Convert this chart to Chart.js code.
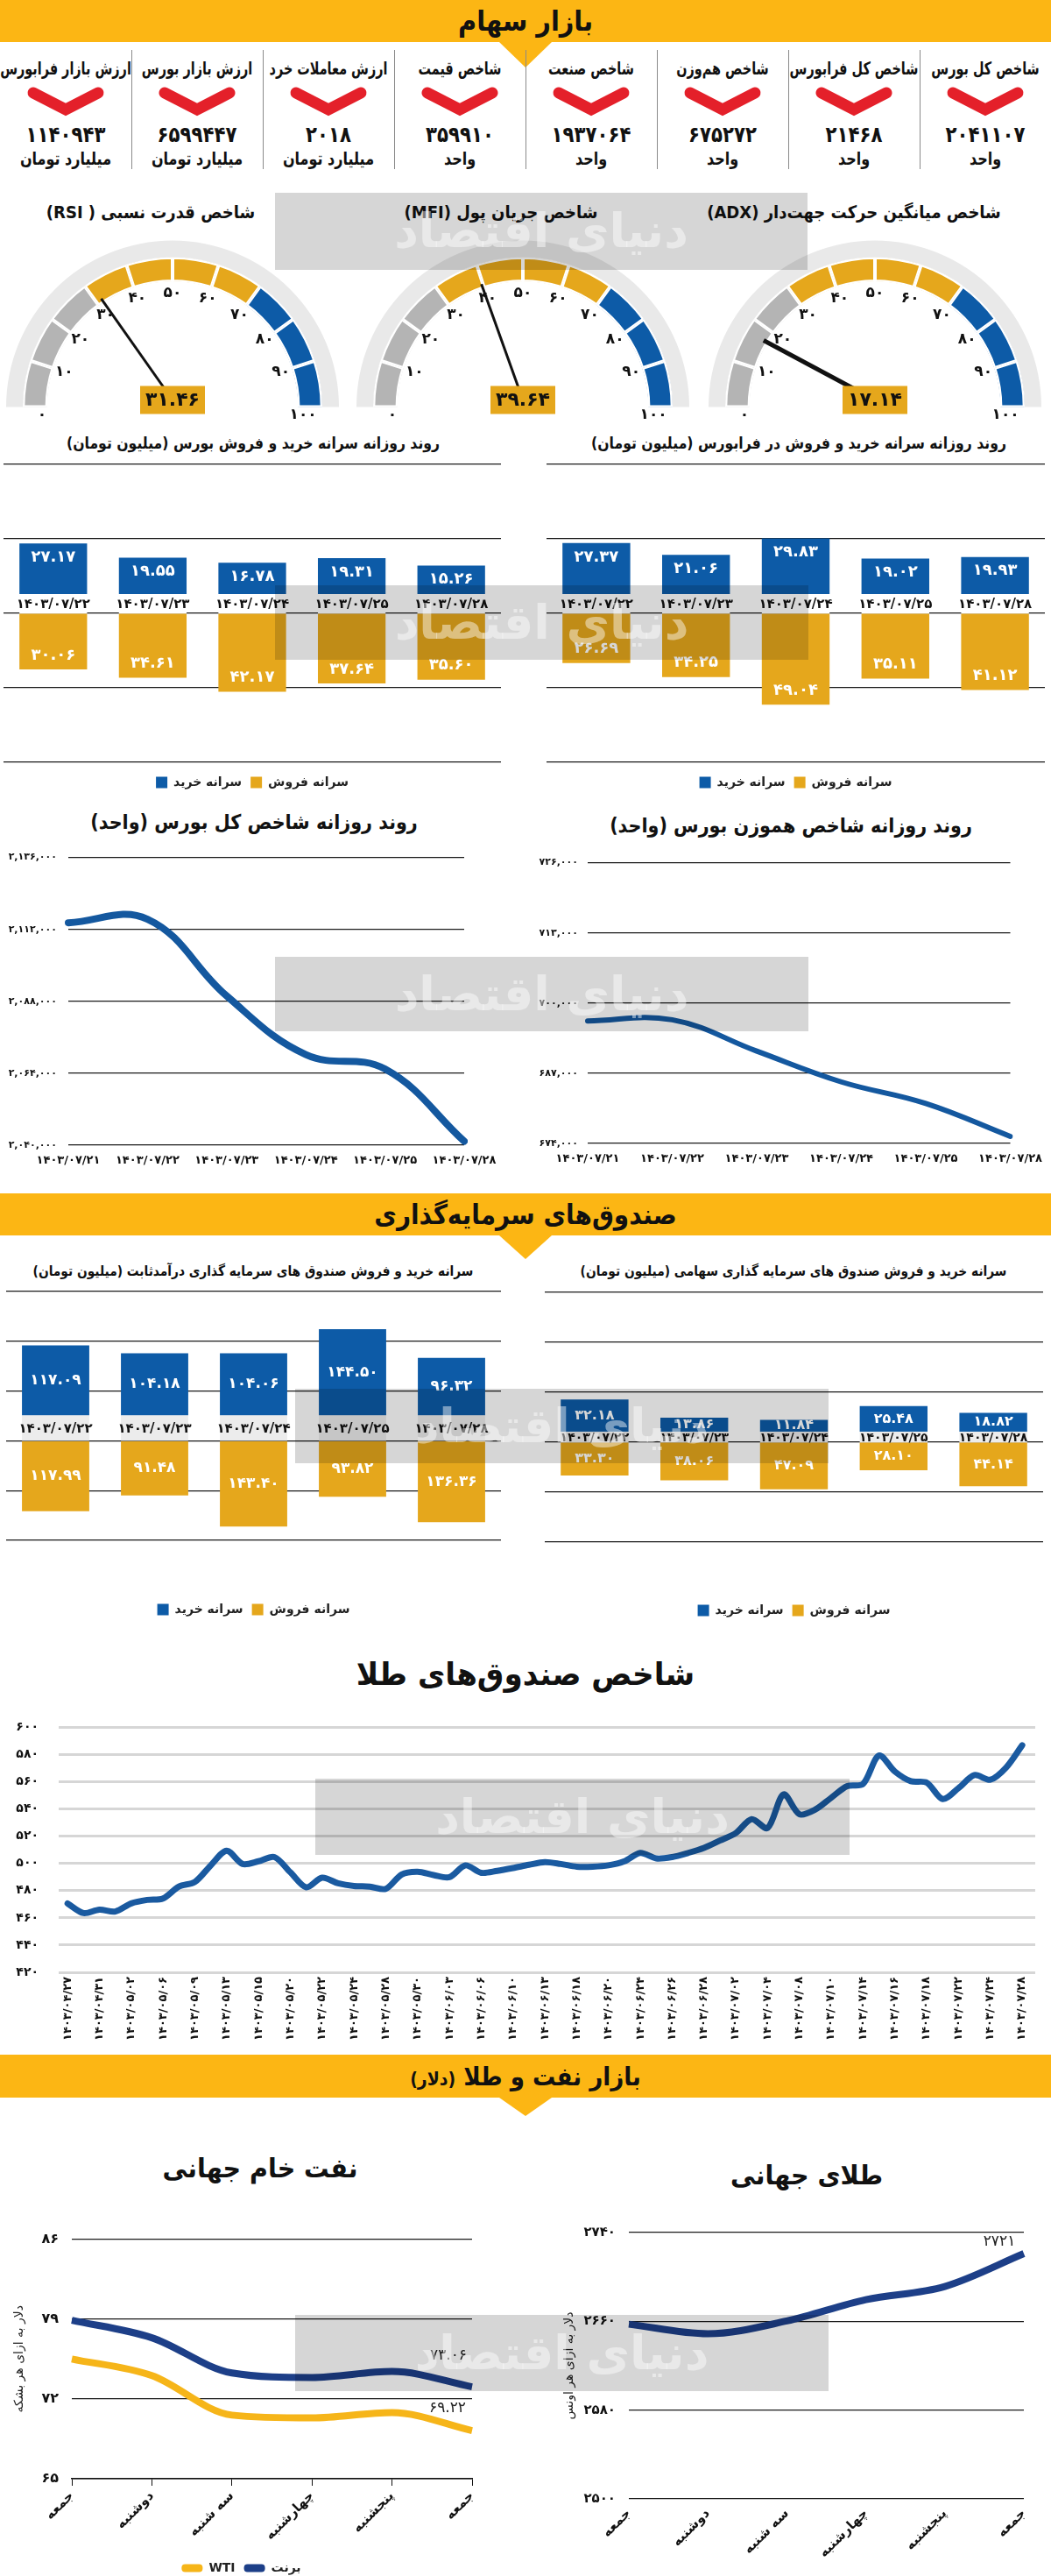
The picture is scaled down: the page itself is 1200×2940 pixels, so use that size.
<!DOCTYPE html>
<html lang="fa">
<head>
<meta charset="utf-8">
<title>بازار سهام</title>
<script src="https://cdn.jsdelivr.net/npm/chart.js@4.4.1/dist/chart.umd.min.js"></script>
<style>
  body { margin: 0; background: #fff; }
  #page { position: relative; width: 1200px; height: 2940px; overflow: hidden; font-family: 'DejaVu Sans', sans-serif; color: #111; }
  .band { position: absolute; left: 0; width: 1200px; background: #fcb614; }
  .notch { position: absolute; left: 570px; width: 0; height: 0; border-left: 30px solid transparent; border-right: 30px solid transparent; }
  .t { position: absolute; white-space: nowrap; font-weight: bold; direction: rtl; }
  .sep { position: absolute; top: 57px; width: 1px; height: 136px; background: #8a8a8a; }
  canvas { position: absolute; }
  .wm { position: absolute; z-index: 5; background: rgba(0, 0, 0, 0.16); color: rgba(255, 255, 255, 0.45);
        font-weight: bold; font-size: 54px; text-align: center; overflow: hidden; direction: rtl; }
</style>
</head>
<body>
<div id="page"></div>
<script>
// ---- data ----
// header stats, right to left
const statTitles = ['شاخص کل بورس', 'شاخص کل فرابورس', 'شاخص هم\u200cوزن', 'شاخص صنعت', 'شاخص قیمت', 'ارزش معاملات خرد', 'ارزش بازار بورس', 'ارزش بازار فرابورس'];
const statValues = [2041107, 21468, 675272, 1937064, 359910, 2018, 6599447, 1140943];
const statUnits = ['واحد', 'واحد', 'واحد', 'واحد', 'واحد', 'میلیارد تومان', 'میلیارد تومان', 'میلیارد تومان'];

// gauges, left to right
const gaugeTitles = ['شاخص قدرت نسبی ( RSI)', 'شاخص جریان پول (MFI)', 'شاخص میانگین حرکت جهت\u200cدار (ADX)'];
const gaugeValues = [31.46, 39.64, 17.14];
const gaugeSteps = [10, 10, 10, 10, 10, 10, 10, 10, 10, 10];
const gaugeTicks = [0, 10, 20, 30, 40, 50, 60, 70, 80, 90, 100];

// daily buy / sell per capita
const tradeDates = ['1403/07/22', '1403/07/23', '1403/07/24', '1403/07/25', '1403/07/28'];
const bourseBuy = [27.17, 19.55, 16.78, 19.31, 15.26];
const bourseSell = [30.06, 34.61, 42.17, 37.64, 35.60];
const farabourseBuy = [27.37, 21.06, 29.83, 19.02, 19.93];
const farabourseSell = [26.69, 34.25, 49.04, 35.11, 41.12];
const stockGrid = [-80, -40, 0, 40, 80];

// daily index
const indexDates = ['1403/07/21', '1403/07/22', '1403/07/23', '1403/07/24', '1403/07/25', '1403/07/28'];
const totalIndex = [2114200, 2115400, 2089800, 2070200, 2065400, 2041300];
const equalIndex = [696700, 696900, 691100, 685400, 681400, 675300];

// funds
const fixedIncomeBuy = [117.09, 104.18, 104.06, 144.50, 96.32];
const fixedIncomeSell = [117.99, 91.48, 143.40, 93.82, 136.36];
const fixedIncomeGrid = [-166.67, -83.33, 0, 83.33, 166.67, 250];
const equityFundBuy = [32.18, 13.86, 11.84, 25.48, 18.82];
const equityFundSell = [33.30, 38.06, 47.09, 28.10, 44.14];
const equityFundGrid = [-100, -50, 0, 50, 100, 150];

// gold funds index (two readings per date label)
const goldFundDates = ['1403/04/27', '1403/04/31', '1403/05/02', '1403/05/06', '1403/05/09', '1403/05/13', '1403/05/15', '1403/05/20',
  '1403/05/22', '1403/05/24', '1403/05/28', '1403/05/30', '1403/06/03', '1403/06/06', '1403/06/10', '1403/06/13', '1403/06/18',
  '1403/06/20', '1403/06/24', '1403/06/26', '1403/06/28', '1403/07/02', '1403/07/04', '1403/07/08', '1403/07/10', '1403/07/14',
  '1403/07/16', '1403/07/18', '1403/07/22', '1403/07/24', '1403/07/28'];
const goldFundIndex = [470.6, 463.5, 466.1, 464.7, 470.6, 473.2, 474.2, 483.0, 486.4, 498.6, 509.3, 499.6, 501.6, 504.7, 493.5,
  482.4, 489.5, 485.4, 483.4, 483.0, 481.3, 491.9, 493.9, 491.5, 489.9, 498.6, 493.1, 494.5, 496.6, 499.0, 501.0,
  499.6, 497.6, 497.6, 498.6, 501.6, 507.7, 503.7, 504.7, 507.7, 511.4, 516.8, 522.3, 532.5, 526.0, 550.7, 536.1,
  539.6, 548.3, 556.8, 558.4, 579.3, 567.5, 560.4, 559.4, 547.3, 555.4, 564.9, 561.5, 570.6, 586.8];

// oil & gold
const weekDays = ['جمعه', 'دوشنبه', 'سه شنبه', 'چهارشنبه', 'پنجشنبه', 'جمعه'];
const brent = [78.9, 77.36, 74.27, 73.87, 74.4, 73.06];
const wti = [75.5, 74.04, 70.58, 70.33, 70.8, 69.22];
const goldOunce = [2657.4, 2648.8, 2660.3, 2679.5, 2691.4, 2721];

// ---- helpers ----
const BLUE = '#0d5ba7', GOLD = '#e5a71c', NAVY = '#1d3f88', YELLOW = '#fcb614';
const FONT = "'DejaVu Sans', sans-serif";
const fa = s => String(s).replace(/\d/g, d => '۰۱۲۳۴۵۶۷۸۹'[d]);
const page = document.getElementById('page');

Chart.defaults.font.family = FONT;
Chart.defaults.color = '#111';
Chart.defaults.responsive = false;
Chart.defaults.animation = false;
Chart.defaults.events = [];
Chart.defaults.plugins.tooltip.enabled = false;

function mkCanvas(left, top, w, h) {
  const c = document.createElement('canvas');
  c.width = w; c.height = h;
  c.style.left = left + 'px'; c.style.top = top + 'px';
  page.appendChild(c);
  return c;
}
// centred text; sx squeezes it a bit, the original face is condensed
function text(x, y, str, size, sx, html) {
  const d = document.createElement('div');
  d.className = 't';
  if (html) d.innerHTML = str; else d.textContent = str;
  d.style.left = x + 'px'; d.style.top = y + 'px'; d.style.fontSize = size + 'px';
  d.style.transform = 'translate(-50%, -50%) scaleX(' + (sx || 1) + ')';
  page.appendChild(d);
  return d;
}
function band(top, h, notchH, title, size) {
  const b = document.createElement('div');
  b.className = 'band'; b.style.top = top + 'px'; b.style.height = h + 'px';
  page.appendChild(b);
  const n = document.createElement('div');
  n.className = 'notch'; n.style.top = (top + h) + 'px';
  n.style.borderTop = notchH + 'px solid ' + YELLOW;
  page.appendChild(n);
  text(600, top + h / 2, title, size, 0.9, true);
}
function watermark(x1, y1, x2, y2) {
  const d = document.createElement('div');
  d.className = 'wm';
  d.style.left = x1 + 'px'; d.style.top = y1 + 'px';
  d.style.width = (x2 - x1) + 'px'; d.style.height = (y2 - y1) + 'px';
  d.style.lineHeight = (y2 - y1) + 'px';
  d.textContent = 'دنیای اقتصاد';
  page.appendChild(d);
}

// ---- header ----
band(0, 48, 29, 'بازار سهام', 32);
statTitles.forEach((t, i) => {
  const cx = 1200 - 75 - i * 150;
  text(cx, 78, t, 20, 0.72);
  const svg = document.createElementNS('http://www.w3.org/2000/svg', 'svg');
  svg.setAttribute('width', 96); svg.setAttribute('height', 36);
  svg.style.position = 'absolute'; svg.style.left = (cx - 48) + 'px'; svg.style.top = '97px';
  svg.innerHTML = '<polyline points="11,9 48,28 85,9" fill="none" stroke="#e4202a" stroke-width="13" stroke-linecap="round" stroke-linejoin="miter"/>';
  page.appendChild(svg);
  text(cx, 153, fa(statValues[i]), 25, 0.85);
  text(cx, 181, statUnits[i], 20, 0.8);
  if (i < 7) {
    const s = document.createElement('div');
    s.className = 'sep'; s.style.left = (1200 - 150 * (i + 1)) + 'px';
    page.appendChild(s);
  }
});

// ---- gauges ----
const gaugeDecor = {
  id: 'gaugeDecor',
  afterDraw(chart, args, o) {
    const ctx = chart.ctx;
    const arc = chart.getDatasetMeta(1).data[0];
    const cx = arc.x, cy = arc.y, rIn = arc.innerRadius;
    ctx.save();
    ctx.textAlign = 'center'; ctx.textBaseline = 'middle';
    ctx.fillStyle = '#111'; ctx.font = 'bold 17px ' + FONT;
    gaugeTicks.forEach(t => {
      const a = Math.PI * (1 - t / 100);
      if (t === 0 || t === 100) {
        ctx.fillText(fa(t), cx + (rIn + 6) * Math.cos(a), cy + 9);
      } else {
        const r = rIn - 13;
        ctx.fillText(fa(t), cx + r * Math.cos(a), cy - r * Math.sin(a));
      }
    });
    const a = Math.PI * (1 - o.value / 100);
    ctx.strokeStyle = '#111'; ctx.lineWidth = o.needle;
    ctx.beginPath();
    ctx.moveTo(cx, cy - 8);
    ctx.lineTo(cx + (rIn + 5) * Math.cos(a), cy - (rIn + 5) * Math.sin(a));
    ctx.stroke();
    ctx.fillStyle = GOLD;
    ctx.fillRect(cx - 37, cy - 24, 74, 32);
    ctx.fillStyle = '#111'; ctx.font = 'bold 22px ' + FONT;
    ctx.fillText(fa(o.value.toFixed(2)), cx, cy - 7);
    ctx.restore();
  }
};
const gaugeCenters = [197, 597, 999];
const gaugeTitleX = [172, 572, 975];
gaugeValues.forEach((v, i) => {
  text(gaugeTitleX[i], 242, gaugeTitles[i], 20, 0.9);
  const zoneColor = (s, k) => k < 3 ? '#b4b4b4' : (k < 7 ? GOLD : BLUE);
  new Chart(mkCanvas(gaugeCenters[i] - 190, 272, 380, 215), {
    type: 'doughnut',
    data: {
      datasets: [
        { data: [100], backgroundColor: ['#e9e9e9'], borderWidth: 0, weight: 19 },
        { data: gaugeSteps, backgroundColor: gaugeSteps.map(zoneColor), borderColor: '#fff', borderWidth: 2, borderAlign: 'inner', weight: 28 }
      ]
    },
    options: {
      rotation: -90, circumference: 180, cutout: '75.3%',
      layout: { padding: { bottom: 20 } },
      plugins: { legend: { display: false }, gaugeDecor: { value: v, needle: i === 2 ? 5 : 3 } }
    },
    plugins: [gaugeDecor]
  });
});

// ---- buy / sell bars ----
const barMarks = {
  id: 'barMarks',
  afterDatasetsDraw(chart, args, o) {
    const ctx = chart.ctx, y0 = chart.scales.y.getPixelForValue(0);
    const sellBars = chart.getDatasetMeta(1).data;
    ctx.save();
    ctx.textAlign = 'center'; ctx.textBaseline = 'middle';
    chart.getDatasetMeta(0).data.forEach((bar, i) => {
      const b = bar.getProps(['x', 'y', 'base', 'width'], true);
      ctx.fillStyle = o.bandColor;
      ctx.fillRect(b.x - b.width / 2, b.base, b.width, y0 - b.base);
      ctx.fillStyle = '#111'; ctx.font = 'bold ' + o.dateSize + 'px ' + FONT;
      ctx.fillText(fa(o.dates[i]), b.x, (b.base + y0) / 2 + 1);
      ctx.fillStyle = '#fff'; ctx.font = 'bold ' + o.valueSize + 'px ' + FONT;
      ctx.fillText(fa(o.buy[i].toFixed(2)), b.x, o.inside ? b.y + o.inside : (b.y + b.base) / 2);
      const s = sellBars[i].getProps(['y', 'base'], true);
      ctx.fillText(fa(o.sell[i].toFixed(2)), b.x, o.inside ? s.y - o.inside : (s.y + s.base) / 2);
    });
    ctx.restore();
  }
};
function barChart(canvas, o) {
  const common = { grouped: false, barPercentage: 0.68, categoryPercentage: 1 };
  return new Chart(canvas, {
    type: 'bar',
    data: {
      labels: tradeDates.map(fa),
      datasets: [
        { label: 'سرانه خرید', data: o.buy.map(v => [o.gap, o.gap + v]), backgroundColor: BLUE, ...common },
        { label: 'سرانه فروش', data: o.sell.map(v => -v), backgroundColor: GOLD, ...common }
      ]
    },
    options: {
      layout: { padding: { left: o.padL, right: o.padR, top: 12, bottom: 0 } },
      scales: {
        x: { grid: { display: false, drawTicks: false }, border: { display: false }, ticks: { display: false },
             afterFit: s => { s.height = o.axisGap; } },
        y: { min: o.grid[0], max: o.grid[o.grid.length - 1],
             afterBuildTicks: s => { s.ticks = o.grid.map(v => ({ value: v })); },
             grid: { color: '#1a1a1a', lineWidth: 1.2, drawTicks: false }, border: { display: false },
             ticks: { display: false }, afterFit: s => { s.width = 0; } }
      },
      plugins: {
        legend: { position: 'bottom', labels: { boxWidth: 13, boxHeight: 13, padding: 10, font: { size: 14, weight: 'bold' }, color: '#222' } },
        barMarks: { dates: tradeDates, buy: o.buy, sell: o.sell, bandColor: o.bandColor, dateSize: o.dateSize, valueSize: o.valueSize, inside: o.inside }
      }
    },
    plugins: [barMarks]
  });
}

text(289, 505, 'روند روزانه سرانه خرید و فروش بورس (میلیون تومان)', 18, 0.87);
text(912, 505, 'روند روزانه سرانه خرید و فروش در فرابورس (میلیون تومان)', 18, 0.87);
barChart(mkCanvas(0, 518, 600, 392), { buy: bourseBuy, sell: bourseSell, grid: stockGrid, gap: 10.35, padL: 4, padR: 28,
  axisGap: 6, bandColor: '#fff', dateSize: 15, valueSize: 18, inside: 16 });
barChart(mkCanvas(600, 518, 600, 392), { buy: farabourseBuy, sell: farabourseSell, grid: stockGrid, gap: 10.35, padL: 24, padR: 7,
  axisGap: 6, bandColor: '#fff', dateSize: 15, valueSize: 18, inside: 16 });

// ---- index lines ----
function indexChart(canvas, o) {
  return new Chart(canvas, {
    type: 'line',
    data: {
      labels: indexDates.map(fa),
      datasets: [{ data: o.values, borderColor: '#14589f', borderWidth: o.lineWidth, tension: 0.4, pointRadius: 0, borderCapStyle: 'round' }]
    },
    options: {
      layout: { padding: { left: 0, right: o.padR, top: 12, bottom: 0 } },
      plugins: { legend: { display: false } },
      scales: {
        x: { offset: false, grid: { display: false, drawTicks: false }, border: { display: false },
             ticks: { autoSkip: false, maxRotation: 0, padding: 10, font: { size: o.xFont, weight: 'bold' }, color: '#111' },
             afterFit: s => { s.height = 31; } },
        y: { min: o.min, max: o.max, grid: { color: '#1a1a1a', lineWidth: 1.3, drawTicks: false }, border: { display: false },
             ticks: { stepSize: o.step, padding: o.tickPad, font: { size: 11, weight: 'bold' }, color: '#111',
                      callback: v => fa(v.toLocaleString('en-US')) },
             afterFit: s => { s.width = o.axisW; } }
      }
    }
  });
}
text(290, 938, 'روند روزانه شاخص کل بورس (واحد)', 23, 0.9);
text(903, 942, 'روند روزانه شاخص هموزن بورس (واحد)', 23, 0.9);
indexChart(mkCanvas(0, 959, 600, 379), { values: totalIndex, min: 2040000, max: 2136000, step: 24000, axisW: 78, tickPad: 13,
  padR: 70, lineWidth: 8, xFont: 13 });
indexChart(mkCanvas(600, 967, 600, 369), { values: equalIndex, min: 674000, max: 726000, step: 13000, axisW: 71, tickPad: 11,
  padR: 37, lineWidth: 6, xFont: 13 });

// ---- funds ----
band(1362, 48, 27, 'صندوق\u200cهای سرمایه\u200cگذاری', 31);
text(289, 1450, 'سرانه خرید و فروش صندوق های سرمایه گذاری درآمدثابت (میلیون تومان)', 16, 0.86);
text(906, 1450, 'سرانه خرید و فروش صندوق های سرمایه گذاری سهامی (میلیون تومان)', 16, 0.86);
barChart(mkCanvas(0, 1462, 600, 392), { buy: fixedIncomeBuy, sell: fixedIncomeSell, grid: fixedIncomeGrid, gap: 42.5, padL: 7, padR: 28,
  axisGap: 62, bandColor: '#ececec', dateSize: 15, valueSize: 17 });
barChart(mkCanvas(600, 1463, 600, 392), { buy: equityFundBuy, sell: equityFundSell, grid: equityFundGrid, gap: 10.6, padL: 22, padR: 9,
  axisGap: 61, bandColor: '#ececec', dateSize: 14, valueSize: 16 });

// ---- gold funds index ----
text(600, 1910, 'شاخص صندوق\u200cهای طلا', 36, 0.95);
new Chart(mkCanvas(0, 1940, 1200, 401), {
  type: 'line',
  data: { datasets: [{ data: goldFundIndex.map((v, i) => ({ x: i / 2, y: v })), borderColor: '#1a5aa0', borderWidth: 7,
    tension: 0.3, pointRadius: 0, borderCapStyle: 'round', borderJoinStyle: 'round' }] },
  options: {
    layout: { padding: { left: 0, right: 18, top: 14, bottom: 0 } },
    plugins: { legend: { display: false } },
    scales: {
      x: { type: 'linear', min: -0.28, max: 30.41,
           afterBuildTicks: s => { s.ticks = goldFundDates.map((d, i) => ({ value: i })); },
           grid: { display: false, drawTicks: false }, border: { display: false },
           ticks: { autoSkip: false, minRotation: 90, maxRotation: 90, padding: 5, font: { size: 13, weight: 'bold' }, color: '#111',
                    callback: (v, i) => fa(goldFundDates[i]) },
           afterFit: s => { s.height = 90; } },
      y: { min: 420, max: 600, grid: { color: '#d6d6d6', lineWidth: 3, drawTicks: false }, border: { display: false },
           ticks: { stepSize: 20, padding: 23, font: { size: 14, weight: 'bold' }, color: '#111', callback: v => fa(v) },
           afterFit: s => { s.width = 67; } }
    }
  }
});

// ---- oil & gold ----
band(2345, 49, 21, 'بازار نفت و طلا <span style="font-size:21px">(دلار)</span>', 29);
const endValue = {
  id: 'endValue',
  afterDatasetsDraw(chart, args, o) {
    const ctx = chart.ctx;
    ctx.save();
    ctx.font = '17px ' + FONT; ctx.fillStyle = '#222'; ctx.textAlign = 'center'; ctx.textBaseline = 'middle';
    o.items.forEach(it => {
      const pts = chart.getDatasetMeta(it.ds).data, vals = chart.data.datasets[it.ds].data;
      const p = pts[pts.length - 1];
      ctx.fillText(fa(vals[vals.length - 1].toFixed(it.dec)), p.x + it.dx, p.y + it.dy);
    });
    ctx.restore();
  }
};
const lineSet = (label, data, color) => ({ label, data, borderColor: color, backgroundColor: color, borderWidth: 8,
  cubicInterpolationMode: 'monotone', pointRadius: 0, borderCapStyle: 'butt' });

text(297, 2474, 'نفت خام جهانی', 30, 0.95);
new Chart(mkCanvas(0, 2531, 600, 417), {
  type: 'line',
  data: { labels: weekDays, datasets: [lineSet('WTI', wti, '#f6b519'), lineSet('برنت', brent, NAVY)] },
  options: {
    layout: { padding: { left: 12, right: 61, top: 12, bottom: 0 } },
    scales: {
      x: { offset: false, grid: { display: true, drawOnChartArea: false, drawTicks: true, tickLength: 8, color: '#111' },
           border: { display: true, color: '#111', width: 1.5 },
           ticks: { autoSkip: false, minRotation: 45, maxRotation: 45, padding: 3, font: { size: 15, weight: 'bold' }, color: '#111' },
           afterFit: s => { s.height = 85; } },
      y: { min: 65, max: 86, grid: { color: '#1a1a1a', lineWidth: 1.2, drawTicks: false }, border: { display: false },
           ticks: { stepSize: 7, padding: 15, font: { size: 16, weight: 'bold' }, color: '#111', callback: v => fa(v) },
           title: { display: true, text: 'دلار به ازای هر بشکه', font: { size: 14 }, color: '#222', padding: { top: 2, bottom: 4 } },
           afterFit: s => { s.width = 70; } }
    },
    plugins: {
      legend: { position: 'bottom', labels: { boxWidth: 24, boxHeight: 9, useBorderRadius: true, borderRadius: 4, padding: 10,
        font: { size: 14, weight: 'bold' }, color: '#222',
        generateLabels: c => Chart.defaults.plugins.legend.labels.generateLabels(c).map(l => ({ ...l, lineWidth: 0 })) } },
      endValue: { items: [{ ds: 1, dec: 2, dx: -27, dy: -35 }, { ds: 0, dec: 2, dx: -28, dy: -25 }] }
    }
  },
  plugins: [endValue]
});

text(921, 2482, 'طلای جهانی', 30, 0.95);
new Chart(mkCanvas(600, 2524, 600, 408), {
  type: 'line',
  data: { labels: weekDays, datasets: [lineSet('طلا', goldOunce, NAVY)] },
  options: {
    layout: { padding: { left: 40, right: 31, top: 12, bottom: 0 } },
    scales: {
      x: { offset: false, grid: { display: false, drawTicks: false }, border: { display: false },
           ticks: { autoSkip: false, minRotation: 45, maxRotation: 45, padding: 8, font: { size: 15, weight: 'bold' }, color: '#111' },
           afterFit: s => { s.height = 80; } },
      y: { min: 2500, max: 2740, grid: { color: '#1a1a1a', lineWidth: 1.2, drawTicks: false }, border: { display: false },
           ticks: { stepSize: 80, padding: 15, font: { size: 15, weight: 'bold' }, color: '#111', callback: v => fa(v) },
           title: { display: true, text: 'دلار به ازای هر اونس', font: { size: 14 }, color: '#222', padding: { top: 2, bottom: 4 } },
           afterFit: s => { s.width = 78; } }
    },
    plugins: {
      legend: { display: false },
      endValue: { items: [{ ds: 0, dec: 0, dx: -28, dy: -13 }] }
    }
  },
  plugins: [endValue]
});

// ---- watermark boxes ----
watermark(314, 220, 922, 308);
watermark(314, 668, 923, 753);
watermark(314, 1092, 923, 1177);
watermark(337, 1585, 946, 1670);
watermark(360, 2030, 970, 2117);
watermark(337, 2642, 946, 2729);
</script>
</body>
</html>
